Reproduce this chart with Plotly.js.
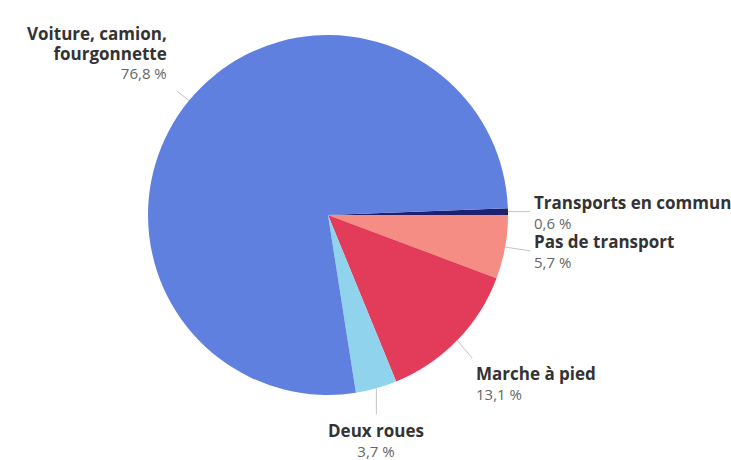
<!DOCTYPE html>
<html>
<head>
<meta charset="utf-8">
<script src="https://cdn.plot.ly/plotly-3.0.1.min.js"></script>
<style>html,body{margin:0;padding:0;background:#fff;}#chart{width:731px;height:460px;}</style>
</head>
<body>
<div id="chart"></div>
<script>
// ---- data ----
const labels = ["Transports en commun", "Pas de transport", "Marche à pied", "Deux roues", "Voiture, camion, fourgonnette"];
const values = [0.6, 5.7, 13.1, 3.7, 76.8];
const labelLines = ["Transports en commun", "Pas de transport", "Marche à pied", "Deux roues", "Voiture, camion,<br>fourgonnette"];
const colors = ["#1f216e", "#f58d84", "#e23c5a", "#8fd3ec", "#6080e0"];

// ---- layout constants ----
const W = 731, H = 460;
const CX = 328, CY = 215, R = 180;
const labelStyle = [
  {ax: 24, ay: 0, xanchor: "left", yanchor: "middle", align: "left", ss: 2},
  {ax: 27, ay: 4, xanchor: "left", yanchor: "middle", align: "left", ss: 2},
  {ax: 17, ay: 20, xanchor: "left", yanchor: "top", align: "left", ss: 3},
  {ax: 0, ay: 29, xanchor: "center", yanchor: "top", align: "center", ss: 3},
  {ax: -20, ay: -16, xanchor: "right", yanchor: "bottom", align: "right", ss: 10}
];

const total = values.reduce((a, b) => a + b, 0);
const rotation = 90 - 360 * values[0] / total;

const annotations = [];
let cum = rotation;
values.forEach((v, i) => {
  const span = 360 * v / total;
  const mid = (cum + span / 2) * Math.PI / 180;
  cum += span;
  const px = CX + R * Math.sin(mid);
  const py = CY - R * Math.cos(mid);
  const s = labelStyle[i];
  const pct = v.toFixed(1).replace(".", ",") + " %";
  annotations.push({
    xref: "paper", yref: "paper",
    x: px / W, y: (H - py) / H,
    ax: s.ax, ay: s.ay,
    xanchor: s.xanchor, yanchor: s.yanchor, align: s.align,
    showarrow: true, arrowhead: 0, arrowwidth: 1, arrowcolor: "#c4c4c4",
    startstandoff: s.ss, standoff: 0,
    text: "<span style=\"font-size:17px\"><b>" + labelLines[i].replace("<br>", "</b></span><br><span style=\"font-size:17px\"><b>") +
          "</b></span><br><span style=\"font-size:15px;color:#666\">" + pct + "</span>",
    font: {family: "Open Sans", size: 15, color: "#333"}
  });
});

const trace = {
  type: "pie",
  labels: labels,
  values: values,
  sort: false,
  direction: "clockwise",
  rotation: rotation,
  textinfo: "none",
  hoverinfo: "label+value",
  marker: {colors: colors, line: {width: 0}},
  domain: {x: [(CX - R) / W, (CX + R) / W], y: [(H - CY - R) / H, (H - CY + R) / H]},
  showlegend: false
};

const layout = {
  width: W, height: H,
  margin: {l: 0, r: 0, t: 0, b: 0},
  paper_bgcolor: "#fff",
  showlegend: false,
  annotations: annotations,
  font: {family: "Open Sans"}
};

Plotly.newPlot("chart", [trace], layout, {displayModeBar: false, staticPlot: true});
</script>
</body>
</html>
